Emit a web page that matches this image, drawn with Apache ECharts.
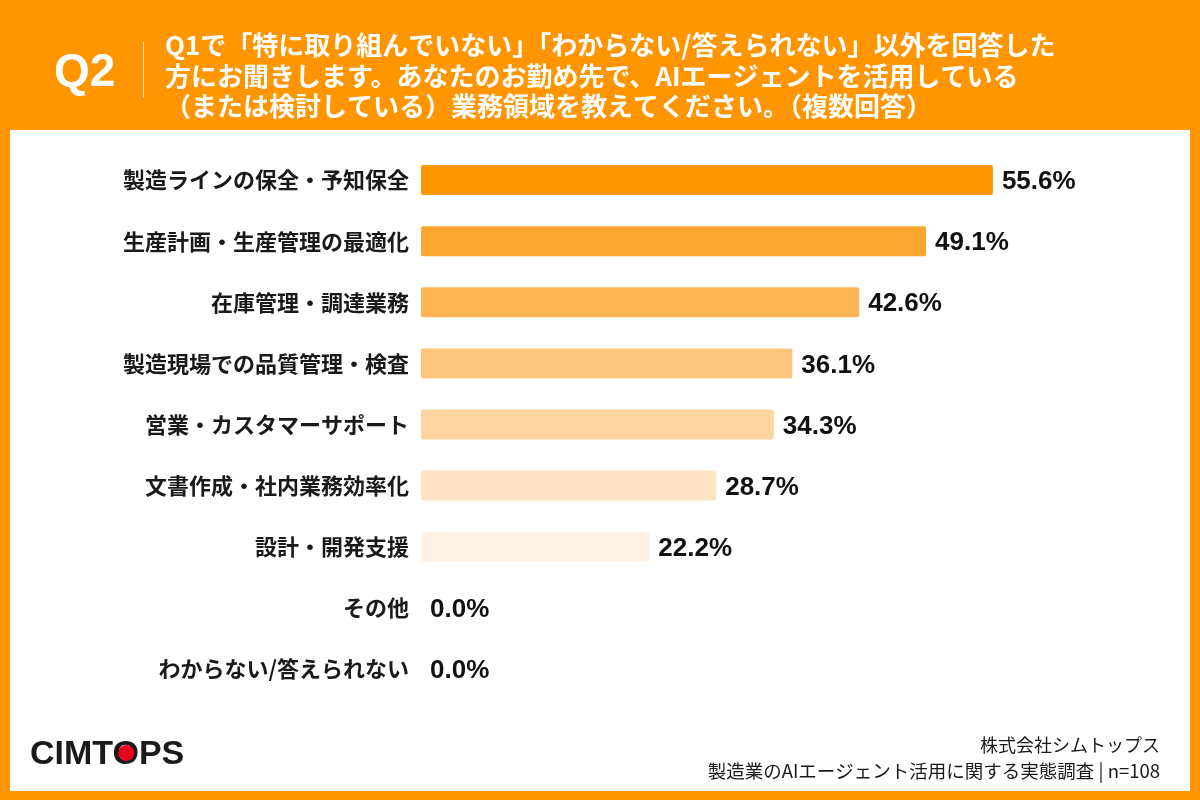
<!DOCTYPE html>
<html>
<head>
<meta charset="utf-8">
<script src="https://cdn.jsdelivr.net/npm/echarts@6/dist/echarts.min.js"></script>
<style>
html,body{margin:0;padding:0;background:#ff9500;}
#main{width:1200px;height:800px;}
</style>
</head>
<body>
<div id="main"></div>
<script>
// 業務領域（複数回答）
var categories = [
    '製造ラインの保全・予知保全',
    '生産計画・生産管理の最適化',
    '在庫管理・調達業務',
    '製造現場での品質管理・検査',
    '営業・カスタマーサポート',
    '文書作成・社内業務効率化',
    '設計・開発支援',
    'その他',
    'わからない/答えられない'
];
var values = [55.6, 49.1, 42.6, 36.1, 34.3, 28.7, 22.2, 0.0, 0.0];

var titleLines = [
    'Q1で「特に取り組んでいない」「わからない/答えられない」以外を回答した',
    '方にお聞きします。あなたのお勤め先で、AIエージェントを活用している',
    '（または検討している）業務領域を教えてください。（複数回答）'
];
var footerLines = ['株式会社シムトップス', '製造業のAIエージェント活用に関する実態調査 | n=108'];

var barColors = ['#ff9500', '#fca632', '#fdb553', '#fdc57d', '#fed49f', '#fee3c4', '#fff1e3', '#fff1e3', '#fff1e3'];

var jp = '"Noto Sans CJK JP", "Noto Sans", sans-serif';

// ロゴの「O」の中の赤い丸の位置を測る
var logoFont = 'bold 34px "Liberation Sans", sans-serif';
var logoX = 30, logoY = 755;
var ctx = document.createElement('canvas').getContext('2d');
ctx.font = logoFont;
ctx.textBaseline = 'middle';
var mO = ctx.measureText('O');
var dotX = logoX + ctx.measureText('CIMT').width + mO.width / 2;
var dotY = logoY + (mO.actualBoundingBoxDescent - mO.actualBoundingBoxAscent) / 2;

var chart = echarts.init(document.getElementById('main'));
var option = {
    backgroundColor: '#ff9500',
    animation: false,
    graphic: [
        { // 白いパネル
            type: 'rect',
            shape: { x: 10, y: 130, width: 1180, height: 661 },
            style: { fill: '#ffffff' },
            z: -10
        },
        {
            type: 'text',
            left: 54, top: 50,
            style: { text: 'Q2', fill: '#fff', font: 'bold 46px "Liberation Sans", sans-serif' }
        },
        {
            type: 'rect',
            shape: { x: 143, y: 42, width: 1, height: 56 },
            style: { fill: 'rgba(255,255,255,0.8)' }
        },
        {
            type: 'text',
            left: 165, top: 30,
            style: {
                text: titleLines.join('\n'),
                fill: '#fff',
                font: 'bold 26px ' + jp,
                lineHeight: 30.5
            }
        },
        { // ロゴ
            type: 'text',
            x: logoX, y: logoY,
            style: {
                text: 'CIMTOPS',
                fill: '#1a1a1a',
                font: logoFont,
                align: 'left',
                verticalAlign: 'middle'
            }
        },
        {
            type: 'circle',
            shape: { cx: dotX, cy: dotY, r: 8 },
            style: { fill: '#e8001c' },
            z: 10
        },
        {
            type: 'text',
            x: 1160, y: 736,
            style: {
                text: footerLines[0],
                fill: '#1a1a1a',
                align: 'right',
                font: '18px ' + jp
            }
        },
        {
            type: 'text',
            x: 1160, y: 762,
            style: {
                text: footerLines[1],
                fill: '#1a1a1a',
                align: 'right',
                font: '18.5px ' + jp
            }
        }
    ],
    grid: {
        left: 421,
        right: 59,
        top: 149.5,
        height: 550,
        containLabel: false
    },
    xAxis: {
        type: 'value',
        min: 0,
        max: 70,
        show: false
    },
    yAxis: {
        type: 'category',
        inverse: true,
        data: categories,
        axisLine: { show: false },
        axisTick: { show: false },
        splitLine: { show: false },
        axisLabel: {
            margin: 12,
            color: '#1a1a1a',
            fontSize: 22,
            fontWeight: 'bold',
            fontFamily: jp
        }
    },
    series: [{
        type: 'bar',
        data: values,
        barWidth: 30,
        itemStyle: {
            borderRadius: 2,
            color: function (p) { return barColors[p.dataIndex]; }
        },
        label: {
            show: true,
            position: 'right',
            distance: 9,
            offset: [0, 2],
            color: '#111',
            fontSize: 26,
            fontWeight: 'bold',
            fontFamily: '"Liberation Sans", sans-serif',
            formatter: function (p) { return p.value.toFixed(1) + '%'; }
        }
    }]
};
chart.setOption(option);
</script>
</body>
</html>
